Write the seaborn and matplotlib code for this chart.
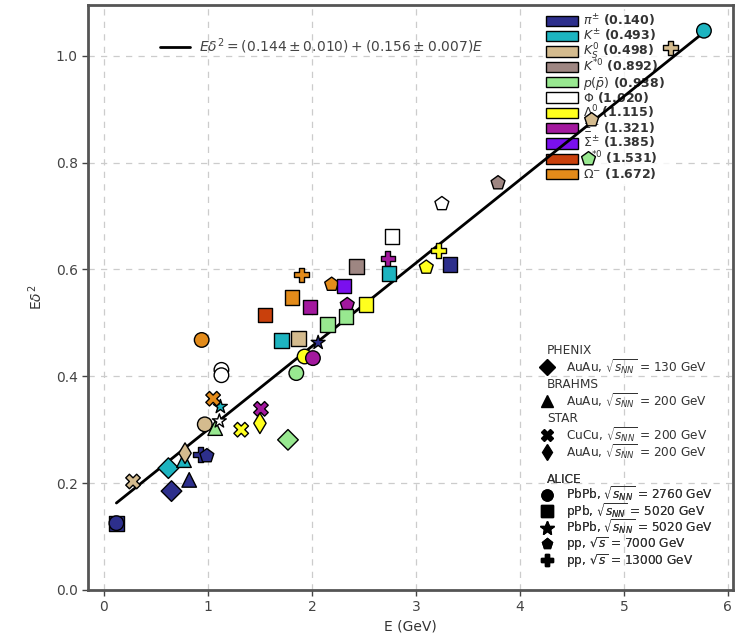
import numpy as np
import pandas as pd
import matplotlib
matplotlib.use("Agg")
import matplotlib.pyplot as plt
import seaborn as sns
from matplotlib.patches import Patch, Rectangle
from matplotlib.lines import Line2D
from matplotlib.legend_handler import HandlerPatch
from matplotlib.offsetbox import TextArea
from matplotlib.transforms import Bbox

# ---------------- data ----------------
particles = ["pi", "Kpm", "K0s", "Kstar", "p", "phi", "Lambda", "Xi", "Sigma", "Xistar", "Omega"]
particle_labels = [r"$\pi^{\pm}$ (0.140)", r"$K^{\pm}$ (0.493)", r"$K^{0}_{S}$ (0.498)",
                   r"$K^{*0}$ (0.892)", r"$p(\bar{p})$ (0.938)", r"$\Phi$ (1.020)",
                   r"$\Lambda^{0}$ (1.115)", r"$\Xi^{-}$ (1.321)", r"$\Sigma^{\pm}$ (1.385)",
                   r"$\Xi^{*0}$ (1.531)", r"$\Omega^{-}$ (1.672)"]
particle_colors = ["#2d2f8c", "#1db4c0", "#d4bb8e", "#9e8682", "#98e890", "#ffffff",
                   "#ffff1e", "#a3189e", "#7a10ee", "#c9400c", "#e38b1a"]

systems = ["PHENIX_AuAu130", "BRAHMS_AuAu200", "STAR_CuCu200", "STAR_AuAu200",
           "ALICE_PbPb2760", "ALICE_pPb5020", "ALICE_PbPb5020", "ALICE_pp7000", "ALICE_pp13000"]
system_markers = ["D", "^", "X", "d", "o", "s", "*", "p", "P"]
system_labels = [r"AuAu, $\sqrt{s_{NN}}$ = 130 GeV", r"AuAu, $\sqrt{s_{NN}}$ = 200 GeV",
                 r"CuCu, $\sqrt{s_{NN}}$ = 200 GeV", r"AuAu, $\sqrt{s_{NN}}$ = 200 GeV",
                 r"PbPb, $\sqrt{s_{NN}}$ = 2760 GeV", r"pPb, $\sqrt{s_{NN}}$ = 5020 GeV",
                 r"PbPb, $\sqrt{s_{NN}}$ = 5020 GeV", r"pp, $\sqrt{s}$ = 7000 GeV",
                 r"pp, $\sqrt{s}$ = 13000 GeV"]
experiments = ["PHENIX", "BRAHMS", "STAR", "ALICE"]

point_particle = ["pi", "pi", "K0s", "pi", "pi", "Kpm", "Kpm", "K0s", "pi", "pi",
                  "K0s", "p", "phi", "Kpm", "Omega", "Omega", "phi", "phi", "Xi", "Lambda",
                  "Lambda", "p", "p", "Kpm", "K0s", "Omega", "Kstar", "Omega", "Sigma", "Omega",
                  "Xistar", "Xi", "Xi", "Lambda", "p", "p", "pi", "Lambda", "Xi", "Xi",
                  "Kpm", "phi", "phi", "Lambda", "Lambda", "pi", "Kstar", "K0s", "p", "K0s",
                  "Kpm"]
point_system = ["ALICE_pPb5020", "ALICE_PbPb2760", "STAR_CuCu200", "PHENIX_AuAu130", "BRAHMS_AuAu200",
                "PHENIX_AuAu130", "BRAHMS_AuAu200", "STAR_AuAu200", "ALICE_pp13000", "ALICE_pp7000",
                "ALICE_PbPb2760", "BRAHMS_AuAu200", "ALICE_PbPb5020", "ALICE_PbPb5020", "STAR_CuCu200",
                "ALICE_PbPb2760", "ALICE_PbPb2760", "ALICE_PbPb2760", "STAR_CuCu200", "STAR_CuCu200",
                "STAR_AuAu200", "PHENIX_AuAu130", "ALICE_PbPb2760", "ALICE_pPb5020", "ALICE_pPb5020",
                "ALICE_pp13000", "ALICE_pPb5020", "ALICE_pp7000", "ALICE_pPb5020", "ALICE_pPb5020",
                "ALICE_pPb5020", "ALICE_pPb5020", "ALICE_pp7000", "ALICE_pPb5020", "ALICE_pPb5020",
                "ALICE_pPb5020", "ALICE_PbPb5020", "ALICE_PbPb2760", "ALICE_PbPb2760", "ALICE_pp13000",
                "ALICE_pPb5020", "ALICE_pPb5020", "ALICE_pp7000", "ALICE_pp13000", "ALICE_pp7000",
                "ALICE_pPb5020", "ALICE_pp7000", "ALICE_pp7000", "ALICE_pp7000", "ALICE_pp13000",
                "ALICE_PbPb2760"]
point_E = [0.12, 0.12, 0.28, 0.65, 0.82, 0.62, 0.77, 0.78, 0.93, 0.99,
           0.97, 1.07, 1.11, 1.12, 1.05, 0.94, 1.13, 1.13, 1.51, 1.32,
           1.50, 1.77, 1.85, 1.71, 1.87, 1.90, 2.43, 2.19, 2.31, 1.81,
           1.55, 1.98, 2.34, 2.52, 2.15, 2.33, 2.06, 1.93, 2.01, 2.73,
           2.74, 2.77, 3.25, 3.22, 3.10, 3.33, 3.79, 4.69, 4.66, 5.45,
           5.77]
point_Ed2 = [0.124, 0.125, 0.203, 0.185, 0.206, 0.228, 0.243, 0.256, 0.254, 0.251,
             0.310, 0.303, 0.316, 0.343, 0.358, 0.468, 0.412, 0.402, 0.339, 0.300,
             0.312, 0.281, 0.406, 0.467, 0.471, 0.590, 0.606, 0.572, 0.569, 0.547,
             0.515, 0.530, 0.534, 0.534, 0.497, 0.512, 0.463, 0.437, 0.434, 0.621,
             0.592, 0.662, 0.723, 0.635, 0.604, 0.609, 0.762, 0.880, 0.807, 1.015,
             1.047]

fit_intercept = 0.144
fit_slope = 0.156
fit_E_range = [0.12, 5.78]
fit_label = r"$E\delta^2 = (0.144 \pm 0.010) + (0.156 \pm 0.007)E$"

# ---------------- plot ----------------
sns.set_theme(style="white")
plt.rcParams["font.family"] = ["DejaVu Sans"]
fig = plt.figure(figsize=(7.36, 6.35), dpi=100)
ax = fig.add_axes([0.12, 0.071, 0.876, 0.921])

df = pd.DataFrame({"E": point_E, "Ed2": point_Ed2,
                   "particle": point_particle, "system": point_system})

fit_df = pd.DataFrame({"E": fit_E_range})
fit_df["Ed2"] = fit_intercept + fit_slope * fit_df["E"]
sns.lineplot(data=fit_df, x="E", y="Ed2", color="black", linewidth=2.0, ax=ax, zorder=2.5)

sns.scatterplot(data=df, x="E", y="Ed2", hue="particle", style="system",
                palette=dict(zip(particles, particle_colors)),
                markers=dict(zip(systems, system_markers)),
                hue_order=particles, style_order=systems,
                s=110, edgecolor="black", linewidth=1.0, legend=False, ax=ax, zorder=3)

ax.set_xlim(-0.15, 6.05)
ax.set_ylim(0.0, 1.095)
ax.set_xticks(range(0, 7))
ax.set_yticks([0.0, 0.2, 0.4, 0.6, 0.8, 1.0])
ax.set_yticklabels(["0.0", "0.2", "0.4", "0.6", "0.8", "1.0"])
ax.grid(True, linestyle=(0, (5, 5)), color="#cccccc", linewidth=0.9)
ax.set_axisbelow(True)
for sp in ax.spines.values():
    sp.set_color("#555555")
    sp.set_linewidth(2.0)
ax.tick_params(axis="both", colors="#444444", labelsize=10, length=4, width=1, direction="out",
               bottom=True, left=True)
ax.set_xlabel("E (GeV)", fontsize=10, color="#333333", labelpad=4)
ax.set_ylabel(r"E$\delta^2$", fontsize=10, color="#333333", labelpad=8)


def uniform_rows(leg, H, D):
    """Give every legend label the same layout height (pixels) for evenly spaced rows."""
    texts = set(leg.get_texts())
    for ta in leg._legend_box.findobj(TextArea):
        if ta._text in texts:
            orig = ta.get_bbox

            def new_bbox(renderer, orig=orig):
                b = orig(renderer)
                return Bbox.from_bounds(b.x0, -D, b.width, H)
            ta.get_bbox = new_bbox


# fit legend
fit_handle = Line2D([], [], color="black", linewidth=2.0)
leg_fit = ax.legend([fit_handle], [fit_label], loc="upper left", bbox_to_anchor=(0.111, 0.946),
                    frameon=False, fontsize=10, handlelength=2.2, handletextpad=0.6,
                    borderaxespad=0, borderpad=0)
for t in leg_fit.get_texts():
    t.set_color("#444444")
ax.add_artist(leg_fit)


# particle legend
def small_rect(legend, orig_handle, xdescent, ydescent, width, height, fontsize):
    h = 7.4
    return Rectangle((-xdescent, -ydescent + (height - h) / 2.0), width, h)


p_handles = [Patch(facecolor=c, edgecolor="black", linewidth=1.0) for c in particle_colors]
leg_p = ax.legend(p_handles, particle_labels, loc="upper left", bbox_to_anchor=(0.705, 0.99),
                  prop={"size": 9, "weight": "bold"}, handlelength=2.55, handleheight=0.8,
                  labelspacing=0.0, handletextpad=0.45, borderpad=0.25, borderaxespad=0,
                  frameon=True, framealpha=0.8, edgecolor="white", fancybox=False,
                  handler_map={Patch: HandlerPatch(patch_func=small_rect)})
uniform_rows(leg_p, 15.3, 4.0)
leg_p.set_zorder(1)
for t in leg_p.get_texts():
    t.set_color("#333333")
ax.add_artist(leg_p)

# experiment legends
exp_groups = {"PHENIX": [0], "BRAHMS": [1], "STAR": [2, 3], "ALICE": [4, 5, 6, 7, 8]}


def exp_legend(exps, anchor, loc, row_h):
    handles, labels, flags = [], [], []
    for exp in exps:
        handles.append(Line2D([], [], linestyle="none"))
        labels.append(exp)
        flags.append(True)
        for i in exp_groups[exp]:
            ms = 10 if system_markers[i] == "*" else 8
            handles.append(Line2D([], [], linestyle="none", marker=system_markers[i],
                                  color="black", markersize=ms))
            labels.append(system_labels[i])
            flags.append(False)
    leg = ax.legend(handles, labels, loc=loc, bbox_to_anchor=anchor,
                    fontsize=8.7, handlelength=1.3, handletextpad=0.9, labelspacing=0.0,
                    handleheight=0.8, frameon=False, borderpad=0, borderaxespad=0)
    uniform_rows(leg, row_h, 4.0)
    for t, flag in zip(leg.get_texts(), flags):
        t.set_color("#333333")
        if flag:
            t.set_x(-19)
    leg.set_zorder(1)
    ax.add_artist(leg)
    return leg


exp_legend(["PHENIX", "BRAHMS", "STAR"], (0.7, 0.425), "upper left", 17.0)
exp_legend(["ALICE"], (0.7, 0.036), "lower left", 16.4)

fig.savefig("out.png", dpi=100)
